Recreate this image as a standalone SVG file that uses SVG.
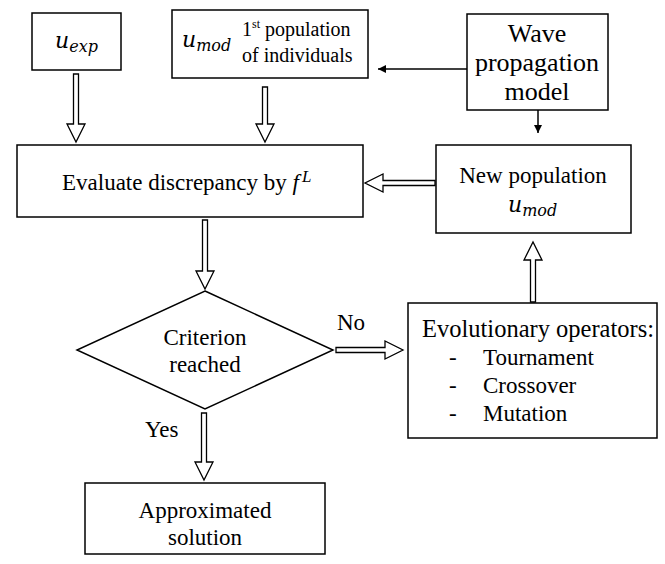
<svg xmlns="http://www.w3.org/2000/svg" width="665" height="564" viewBox="0 0 665 564">
<style>
.box{fill:#fff;stroke:#000;stroke-width:1.5}
.t{font-family:"Liberation Serif","Times New Roman",serif;font-size:23px;fill:#000}
.t20{font-size:20px}
.t26{font-size:26px}
.sup{font-size:12px}
.m{font-family:"DejaVu Serif","Liberation Serif",serif;font-style:italic;font-size:22px;fill:#000}
.ms{font-size:16px}
.fi{font-family:"Liberation Serif","Times New Roman",serif;font-style:italic;font-size:23px}
.fL{font-family:"Liberation Serif","Times New Roman",serif;font-style:italic;font-size:17px}
.ha{fill:#fff;stroke:#000;stroke-width:1.3;stroke-linejoin:miter}
.ln{stroke:#000;stroke-width:1.5;fill:none}
</style>
<defs>
<marker id="ah" viewBox="0 0 10 10" refX="10" refY="5" markerWidth="8" markerHeight="8" markerUnits="userSpaceOnUse" orient="auto">
<path d="M0,0 L10,5 L0,10 z" fill="#000"/>
</marker>
</defs>
<rect width="665" height="564" fill="#fff"/>

<g id="uexp">
<rect class="box" x="32" y="13" width="89" height="57"/>
<text class="m" x="55" y="48">u<tspan class="ms" dy="4">exp</tspan></text>
</g>

<g id="umod">
<rect class="box" x="172" y="10" width="196" height="68"/>
<text class="m" x="182" y="47">u<tspan class="ms" dy="4">mod</tspan></text>
<text class="t t20" x="242" y="36">1<tspan class="sup" dy="-8">st</tspan><tspan dy="8"> population</tspan></text>
<text class="t t20" x="242" y="62">of individuals</text>
</g>

<g id="wave">
<rect class="box" x="467" y="14" width="141" height="96"/>
<text class="t t26" x="537" y="42" text-anchor="middle">Wave</text>
<text class="t t26" x="537" y="71" text-anchor="middle">propagation</text>
<text class="t t26" x="537" y="100" text-anchor="middle">model</text>
</g>

<g id="evaluate">
<rect class="box" x="17" y="145" width="346" height="72"/>
<text class="t" x="62" y="190">Evaluate discrepancy by <tspan class="fi">f</tspan><tspan class="fL" dx="3" dy="-8">L</tspan></text>
</g>

<g id="newpop">
<rect class="box" x="436" y="145" width="195" height="88"/>
<text class="t" x="533" y="183" text-anchor="middle">New population</text>
<text class="m" x="508" y="212">u<tspan class="ms" dy="4">mod</tspan></text>
</g>

<g id="criterion">
<polygon class="box" points="205,291 333,350 205,409 77,350"/>
<text class="t" x="205" y="345" text-anchor="middle">Criterion</text>
<text class="t" x="205" y="372" text-anchor="middle">reached</text>
</g>

<g id="evolutionary">
<rect class="box" x="408" y="303" width="249" height="135"/>
<text class="t" x="422" y="337" style="font-size:24.5px">Evolutionary operators:</text>
<text class="t" x="449" y="365">-</text>
<text class="t" x="483" y="365">Tournament</text>
<text class="t" x="449" y="393">-</text>
<text class="t" x="483" y="393">Crossover</text>
<text class="t" x="449" y="421">-</text>
<text class="t" x="483" y="421">Mutation</text>
</g>

<g id="approx">
<rect class="box" x="85" y="483" width="240" height="71"/>
<text class="t" x="205" y="518" text-anchor="middle">Approximated</text>
<text class="t" x="205" y="545" text-anchor="middle">solution</text>
</g>

<g id="connectors">
<polygon class="ha" points="73.5,74 78.5,74 78.5,124 85,124 76,142 67,124 73.5,124"/>
<polygon class="ha" points="262.5,87 267.5,87 267.5,124 274,124 265,142 256,124 262.5,124"/>
<polygon class="ha" points="202.5,220 207.5,220 207.5,271 214,271 205,289 196,271 202.5,271"/>
<polygon class="ha" points="201.5,413 206.5,413 206.5,462 213,462 204,480 195,462 201.5,462"/>
<polygon class="ha" points="336,347.5 385,347.5 385,341 403,350 385,359 385,352.5 336,352.5"/>
<polygon class="ha" points="530.5,302 535.5,302 535.5,260 542,260 533,242 524,260 530.5,260"/>
<polygon class="ha" points="435,180.5 383,180.5 383,174 365,183 383,192 383,185.5 435,185.5"/>
<line class="ln" x1="467" y1="69" x2="378" y2="69" marker-end="url(#ah)"/>
<line class="ln" x1="538" y1="110" x2="538" y2="133" marker-end="url(#ah)"/>
<text class="t" x="337" y="330">No</text>
<text class="t" x="145" y="437">Yes</text>
</g>
</svg>
